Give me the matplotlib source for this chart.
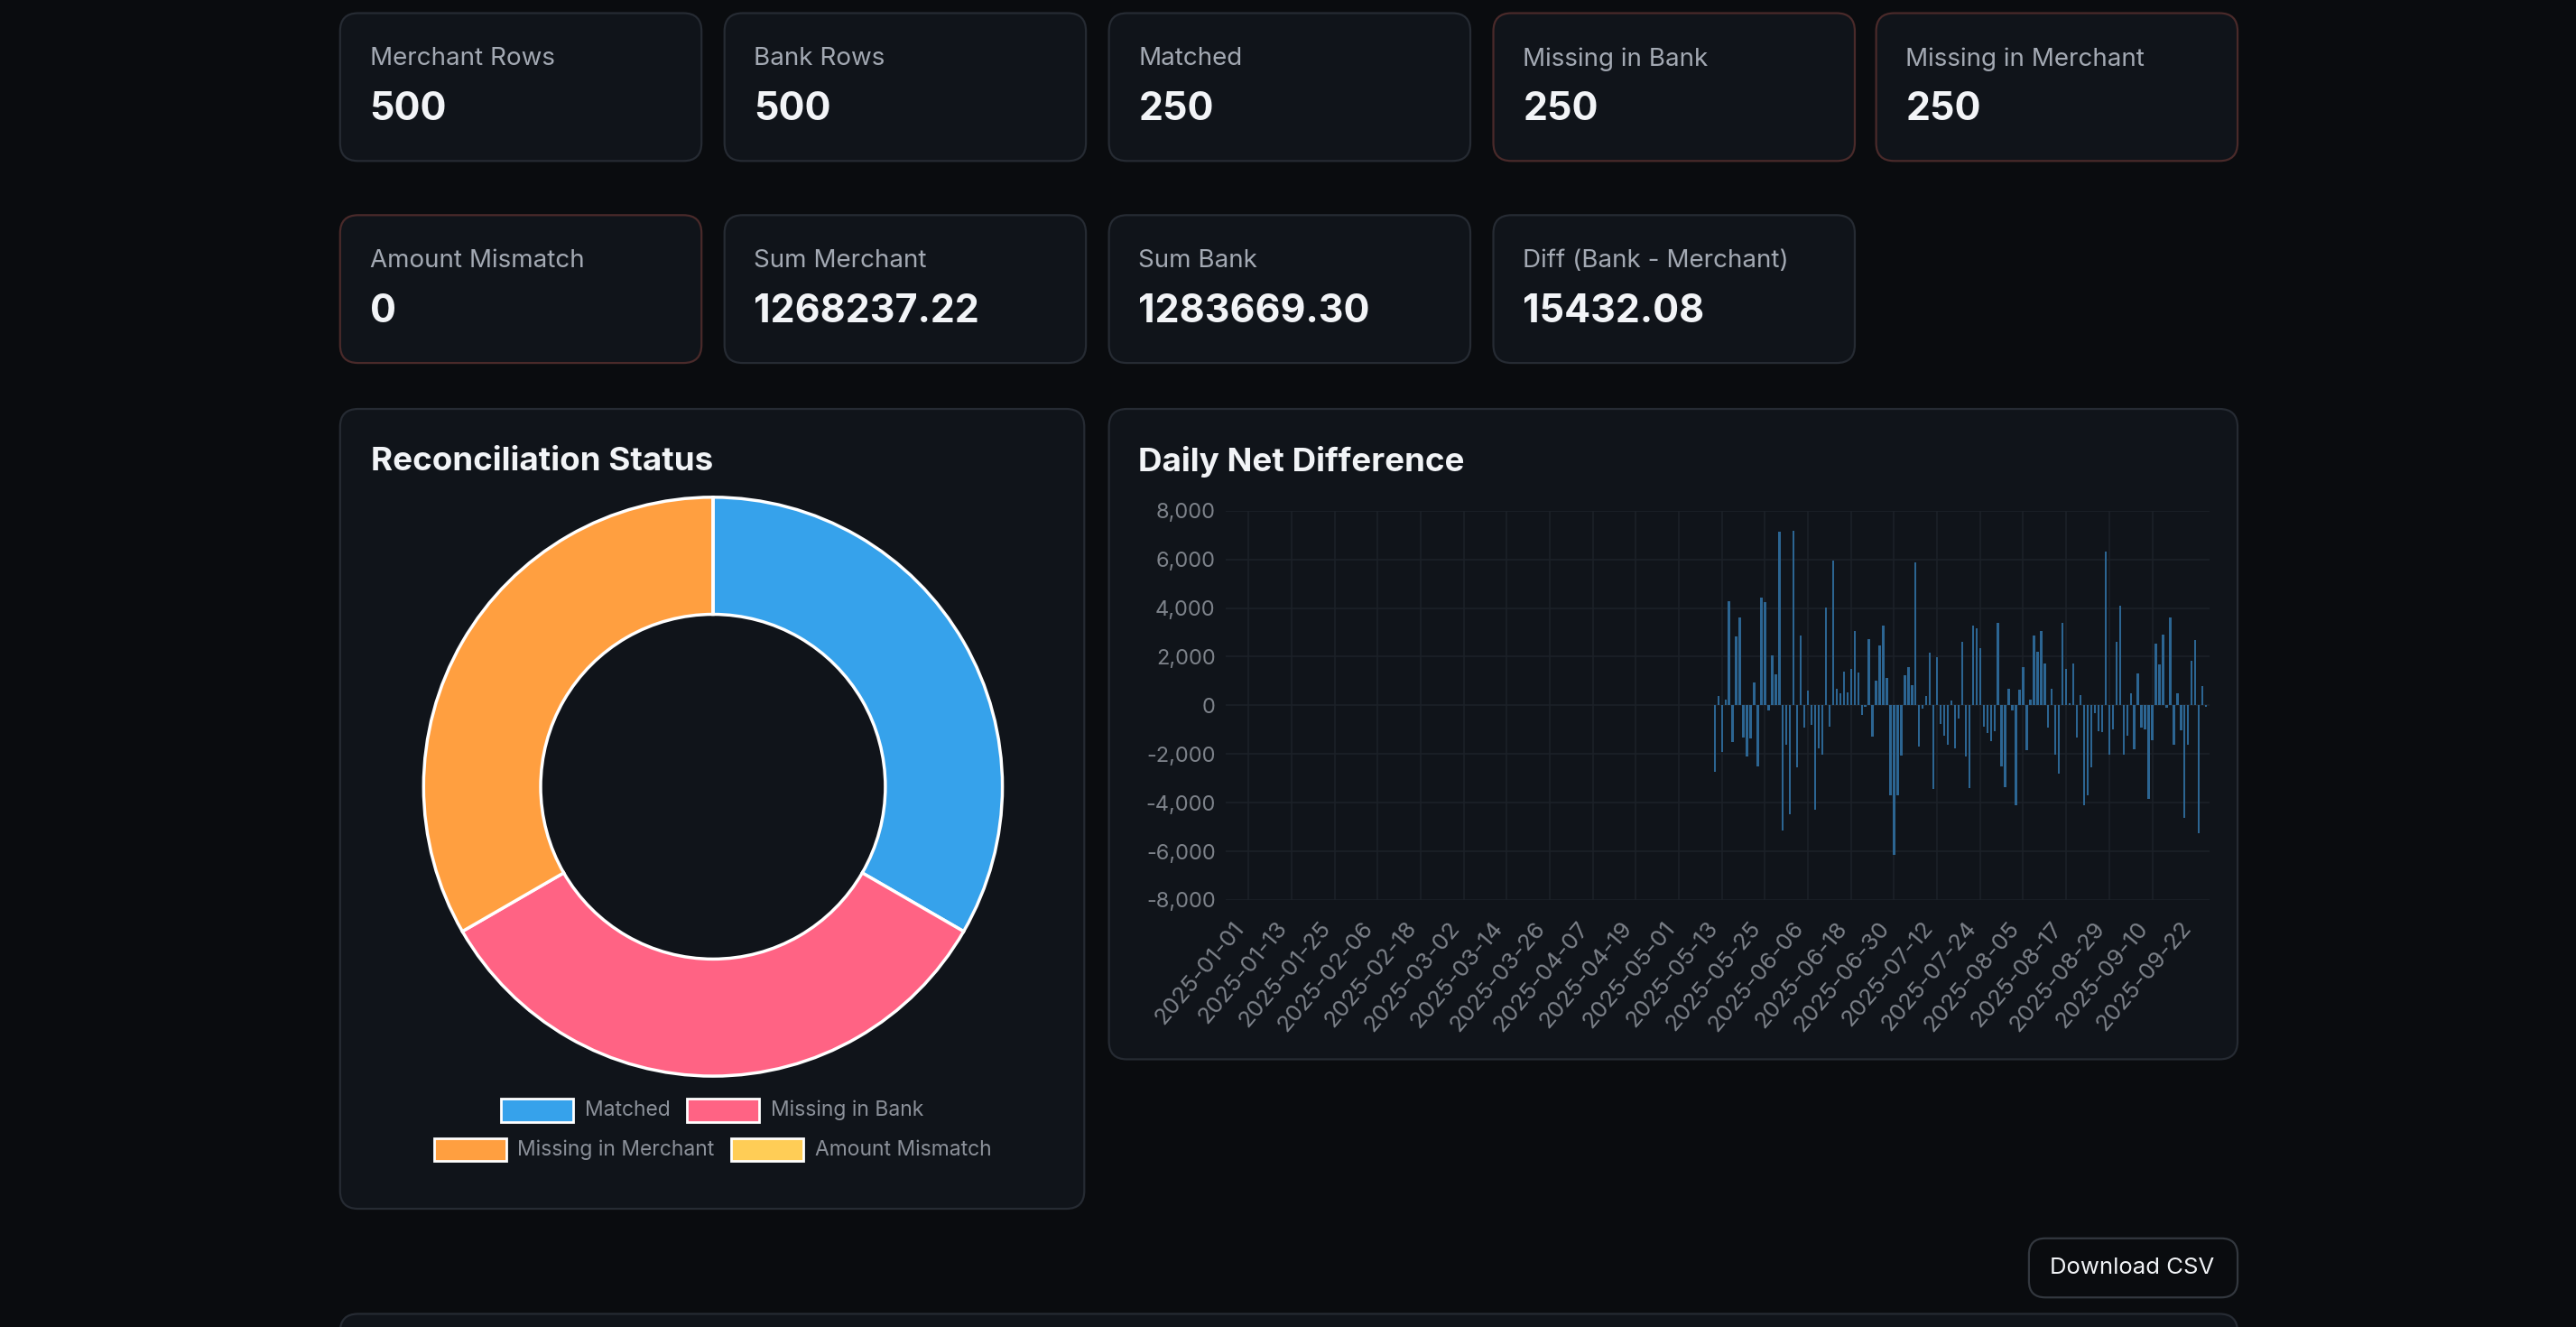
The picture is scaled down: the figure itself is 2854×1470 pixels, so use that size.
import datetime as dt
import matplotlib
matplotlib.use("Agg")
import matplotlib.pyplot as plt
import matplotlib.transforms as mtransforms
from matplotlib.patches import FancyBboxPatch, Rectangle

plt.rcParams['font.family'] = ['Inter', 'DejaVu Sans']

# KPI cards
card_labels = ["Merchant Rows", "Bank Rows", "Matched", "Missing in Bank", "Missing in Merchant",
               "Amount Mismatch", "Sum Merchant", "Sum Bank", "Diff (Bank - Merchant)"]
card_values = ["500", "500", "250", "250", "250", "0", "1268237.22", "1283669.30", "15432.08"]
card_alert = [False, False, False, True, True, True, False, False, False]

# donut
status_labels = ["Matched", "Missing in Bank", "Missing in Merchant", "Amount Mismatch"]
status_counts = [250, 250, 250, 0]
status_colors = ["#36A2EB", "#FF6384", "#FF9F40", "#FFCD56"]

# daily net difference: zero until 2025-05-23, then these values
start_date = dt.date(2025, 1, 1)
first_active = dt.date(2025, 5, 23)
daily_diff = [
    -2740, 370, -1900, 250, 4270, -1520, 2820, 3600, -1310, -2100, -1370, 950, -2510, 4420, 4230, -200,
    2040, 1280, 7130, -5160, -1600, -4470, 7170, -2540, 2870, -930, 620, -820, -4280, -1750, -2040, 4020,
    -880, 5940, 670, 500, 1370, 530, 1490, 3070, 1350, -410, -70, 2740, -1280, 1020, 2460, 3270,
    1110, -3700, -6150, -3700, -2060, 1230, 1570, 830, 5870, -1710, -120, 370, 2170, -3450, 1990, -780,
    -1250, -1600, 190, -1770, -530, 2600, -2100, -3400, 3270, 3160, 2350, -870, -1130, -1460, -1060, 3380,
    -2510, -3370, 670, -220, -4120, 660, 1580, -1840, 250, 2870, 2190, 3050, 1720, -920, 680, -2020,
    -2810, 3400, 1510, 90, 1720, -1320, 430, -4090, -3680, -2560, -320, -1060, -1110, 6310, -2030, -970,
    2610, 4100, -2010, -1230, 510, -1800, 1300, -930, -990, -3860, -1440, 2550, 1700, 2900, -100, 3600,
    -1600, 510, -1040, -4620, -1600, 1840, 2700, -5240, 780, -70,
]
n_zero = (first_active - start_date).days
values = [0] * n_zero + daily_diff
dates = [(start_date + dt.timedelta(days=i)).isoformat() for i in range(len(values))]

W, H = 1568, 808
fig = plt.figure(figsize=(28.54, 14.70), dpi=100, facecolor="#0a0c0f")
bg = fig.add_axes([0, 0, 1, 1])
bg.set_xlim(0, W)
bg.set_ylim(H, 0)
bg.axis("off")

def card(x0, y0, x1, y1, edge="#262b33"):
    bg.add_patch(FancyBboxPatch((x0, y0), x1 - x0, y1 - y0, boxstyle="round,pad=0,rounding_size=11",
                                fc="#10141a", ec=edge, lw=1.6))

xs = [207, 441, 675, 909, 1142]
for i, (lab, val, alert) in enumerate(zip(card_labels, card_values, card_alert)):
    row, col = divmod(i, 5)
    x0 = xs[col]
    y0 = 8 + row * 123
    card(x0, y0, x0 + 220, y0 + 90, "#4a2a2a" if alert else "#262b33")
    bg.text(x0 + 18, y0 + 28, lab, color="#a3a9b3", fontsize=20, va="center")
    bg.text(x0 + 18, y0 + 59, val, color="#f2f4f7", fontsize=31, fontweight="bold", va="center")

# panels
card(207, 249, 660, 736)
card(675, 249, 1362, 645)
bg.text(226, 281, "Reconciliation Status", color="#f2f4f7", fontsize=26.5, fontweight="bold", va="center")
bg.text(693, 281, "Daily Net Difference", color="#f2f4f7", fontsize=26.5, fontweight="bold", va="center")

# donut
cx, cy, r = 434, 479, 178
pax = fig.add_axes([(cx - r) / W, 1 - (cy + r) / H, 2 * r / W, 2 * r / H])
pax.pie(status_counts, colors=status_colors, startangle=90, counterclock=False, radius=1,
        wedgeprops=dict(width=72 / 178, edgecolor="white", linewidth=2.5))
pax.set_xlim(-1.01, 1.01)
pax.set_ylim(-1.01, 1.01)
pax.set_aspect("equal")

# legend
leg_pos = [(305, 676), (418, 676), (264, 700), (445, 700)]
for (lx, ly), lab, col in zip(leg_pos, status_labels, status_colors):
    bg.add_patch(Rectangle((lx, ly - 7), 44, 14, fc=col, ec="white", lw=2))
    bg.text(lx + 51, ly, lab, color="#8b9099", fontsize=16.5, va="center")

# bar chart
bx0, bx1, by0, by1 = 746, 1345, 311, 548
ax = fig.add_axes([bx0 / W, 1 - by1 / H, (bx1 - bx0) / W, (by1 - by0) / H])
ax.set_facecolor("#10141a")
idx = list(range(len(values)))
ax.bar(idx, values, width=0.6, color="#2c6592")
ax.set_ylim(-8000, 8000)
ax.set_xlim(5.6, 280)
ax.set_yticks(range(-8000, 8001, 2000))
ax.set_yticklabels([f"{v:,}" for v in range(-8000, 8001, 2000)])
label_idx = [i for i in idx[::12] if i <= 264]
ax.set_xticks([i for i in label_idx if i > 0])
ax.set_xticklabels([])
lbl_trans = ax.get_xaxis_transform() + mtransforms.ScaledTranslation(0.3, -0.2, fig.dpi_scale_trans)
for i in label_idx:
    ax.text(i, 0, dates[i], transform=lbl_trans, rotation=50, ha="right", va="top",
            rotation_mode="anchor", color="#7d828a", fontsize=18.5, clip_on=False)
ax.grid(True, color="#1c2128", lw=1.2)
ax.set_axisbelow(True)
ax.tick_params(axis="y", colors="#7d828a", labelsize=17, length=0, pad=8)
ax.tick_params(axis="x", length=0)
for s in ax.spines.values():
    s.set_visible(False)

# download button and next card edge
bg.add_patch(FancyBboxPatch((1235, 754), 127, 36, boxstyle="round,pad=0,rounding_size=10",
                            fc="#0a0c0f", ec="#33383f", lw=1.6))
bg.text(1298, 772, "Download CSV", color="#f2f4f7", fontsize=18.5, ha="center", va="center")
card(207, 800, 1362, 840)

fig.savefig("out.png", dpi=100, facecolor=fig.get_facecolor())
